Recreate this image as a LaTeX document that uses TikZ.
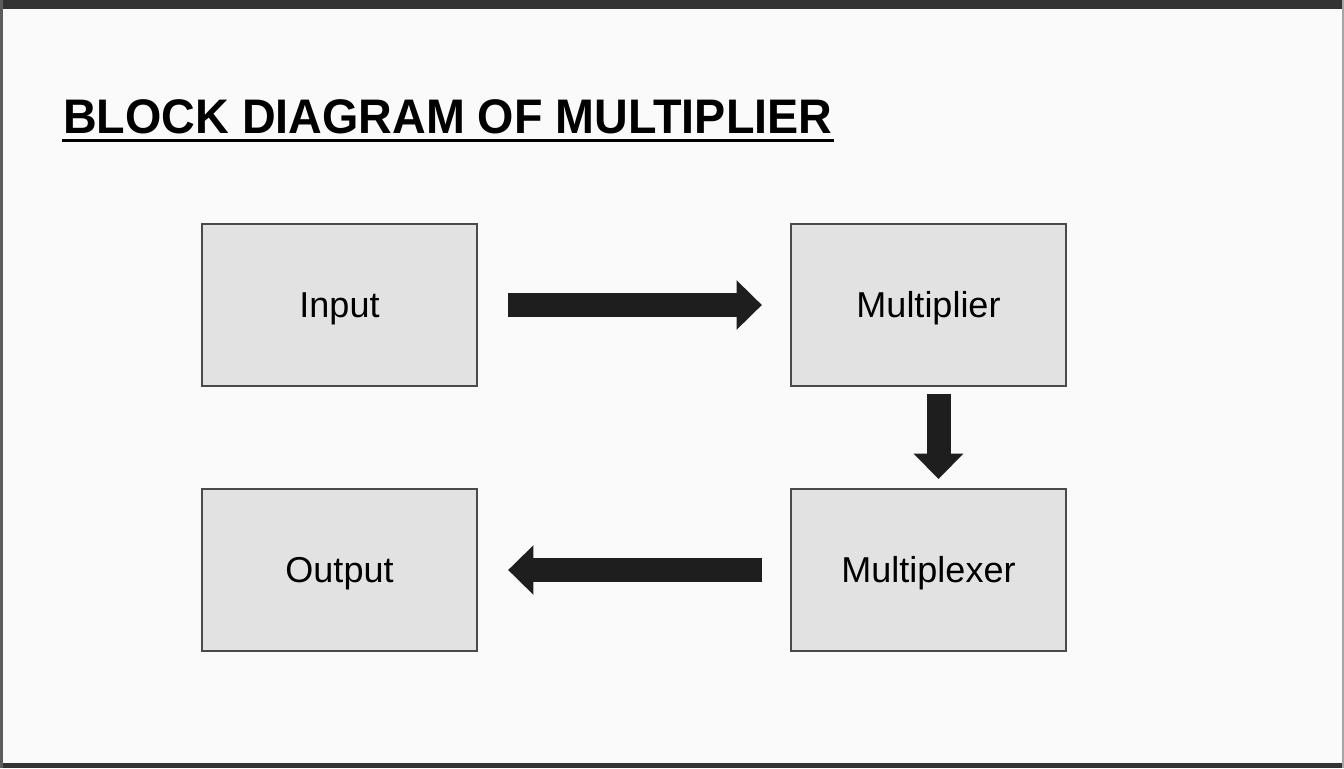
\documentclass[tikz,border=0pt]{standalone}
\usepackage{fontspec}
\setmainfont{Liberation Sans}
\usetikzlibrary{arrows.meta,calc}
\definecolor{bg}{HTML}{FAFAFA}
\definecolor{frame}{HTML}{333333}
\definecolor{boxfill}{HTML}{E2E2E2}
\definecolor{boxline}{HTML}{4A4A4A}
\definecolor{arrowcol}{HTML}{1E1E1E}
\tikzset{
  blockbox/.style={draw=boxline, line width=1.9pt, fill=boxfill, minimum width=206pt, minimum height=121.5pt, inner sep=0pt, text height=24.3pt, text depth=6.3pt, font=\fontsize{27}{32}\selectfont, text=black},
  bigarrow/.style={draw=arrowcol, line width=18pt, -{Triangle[length=19pt, width=36pt]}, arrowcol}
}
\begin{document}
\begin{tikzpicture}[x=0.75pt, y=-0.75pt]
  \useasboundingbox (0,0) rectangle (1344,768);
  \fill[bg] (0,0) rectangle (1344,768);
  % frame
  \fill[frame] (0,0) rectangle (1344,9);
  \fill[frame] (0,763) rectangle (1344,768);
  \fill[frame!80] (0,0) rectangle (3,768);
  \fill[gray!70] (1342,0) rectangle (1344,768);
  % title
  \node[anchor=base west, inner sep=0pt, font=\fontsize{35}{40}\selectfont\bfseries, yscale=1.04] (title) at (63,133) {BLOCK DIAGRAM OF MULTIPLIER};
  \draw[line width=2.4pt, black] ($(title.base west)+(-1,7.5)$) coordinate (ul1) -- ($(title.base east)+(1,7.5)$) coordinate (ul2);
  % boxes
  \node[blockbox] (in)   at (339.5,305)  {Input};
  \node[blockbox] (mul)  at (928.5,305)  {Multiplier};
  \node[blockbox] (out)  at (339.5,570)  {Output};
  \node[blockbox] (mux)  at (928.5,570)  {Multiplexer};
  % arrows
  \draw[bigarrow, shorten <=22.5pt, shorten >=21pt] (in.east) -- (mul.west);
  \draw[bigarrow, shorten <=5pt, shorten >=6.5pt] ($(mul.south)+(10,0)$) -- ($(mux.north)+(10,0)$);
  \draw[bigarrow, shorten <=21pt, shorten >=22.5pt] (mux.west) -- (out.east);
\end{tikzpicture}
\end{document}
